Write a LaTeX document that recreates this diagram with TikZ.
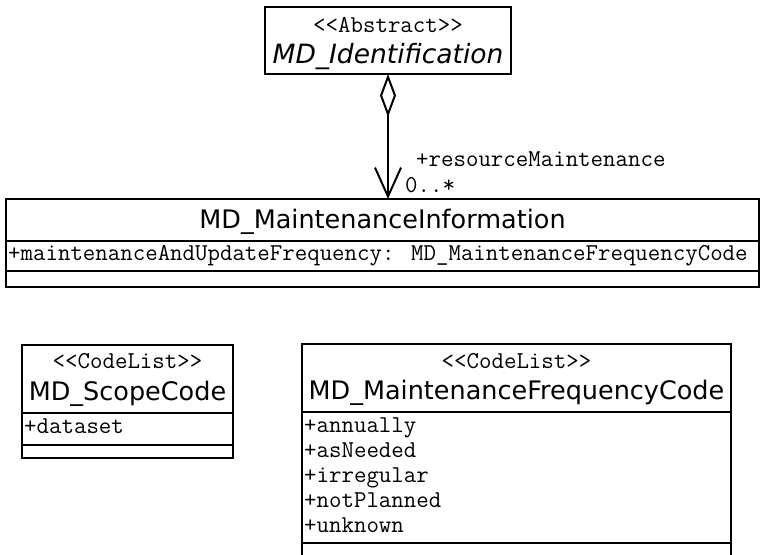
\documentclass[tikz,border=0pt]{standalone}
\usepackage{fontspec}
\setmainfont{DejaVu Sans}
\usetikzlibrary{arrows.meta}
\newcommand{\stereo}[1]{<\kern0pt<#1>\kern0pt>}

\begin{document}
\begin{tikzpicture}[x = 1pt, y = -1pt,
	classbox/.style = {draw, line width = 2pt, inner sep = 0, outer sep = 0, anchor = north west},
	classline/.style = {line width = 2pt},
	nametext/.style = {font = \fontsize{25.5}{30}\selectfont, anchor = base, inner sep = 0},
	stereotext/.style = {font = \ttfamily\fontsize{24.2}{28}\selectfont, anchor = base, inner sep = 0},
	attrtext/.style = {font = \ttfamily\fontsize{24.2}{28}\selectfont, anchor = base west, inner sep = 0},
	assoc/.style = {line width = 2pt, {Diamond[open, length = 43pt, width = 16pt, line width = 2pt]}-{Straight Barb[length = 29pt, width = 26pt, line width = 2pt]}}]
	 \useasboundingbox (0, 0) rectangle (762, 554);
	 
	 \node[classbox, minimum width = 246pt, minimum height = 67pt] (ident) at (265, 7) {};
	 \node[stereotext] (identstereo) at (388, 32) {\stereo{Abstract}};
	 \node[nametext, font = \fontsize{26.5}{30}\selectfont\itshape] (identname) at (388, 63) {MD\_Identification};
	 
	 \node[classbox, minimum width = 753pt, minimum height = 88pt] (info) at (6, 199) {};
	 \node[nametext] (infoname) at (382.5, 228) {MD\_MaintenanceInformation};
	 \draw[classline] (6, 241) -- (759, 241);
	 \node[attrtext] (infoattr) at (8, 260) {+maintenanceAndUpdateFrequency: MD\_MaintenanceFrequencyCode};
	 \draw[classline] (6, 271) -- (759, 271);
	 
	 \draw[assoc] (ident.south) -- (ident.south |- info.north);
	 \node[attrtext] (rolename) at (416, 166) {+resourceMaintenance};
	 \node[attrtext] (mult) at (405, 192) {0..*};
	 
	 \node[classbox, minimum width = 211pt, minimum height = 113pt] (scope) at (22, 345) {};
	 \node[stereotext] (scopestereo) at (127.5, 368) {\stereo{CodeList}};
	 \node[nametext] (scopename) at (127.5, 400) {MD\_ScopeCode};
	 \draw[classline] (22, 413) -- (233, 413);
	 \node[attrtext] (scopeattr) at (24, 433) {+dataset};
	 \draw[classline] (22, 445) -- (233, 445);
	 
	 \node[classbox, minimum width = 429pt, minimum height = 214pt] (freq) at (302, 344) {};
	 \node[stereotext] (freqstereo) at (516.5, 368) {\stereo{CodeList}};
	 \node[nametext] (freqname) at (516.5, 399) {MD\_MaintenanceFrequencyCode};
	 \draw[classline] (302, 412) -- (731, 412);
	 \foreach \val [count = \i] in {annually, asNeeded, irregular, notPlanned, unknown}
	 \node[attrtext] (freqattr\i) at (304, 407.7 + 25 * \i) {+\val};
	 \draw[classline] (302, 543) -- (731, 543);
\end{tikzpicture}
\end{document}
